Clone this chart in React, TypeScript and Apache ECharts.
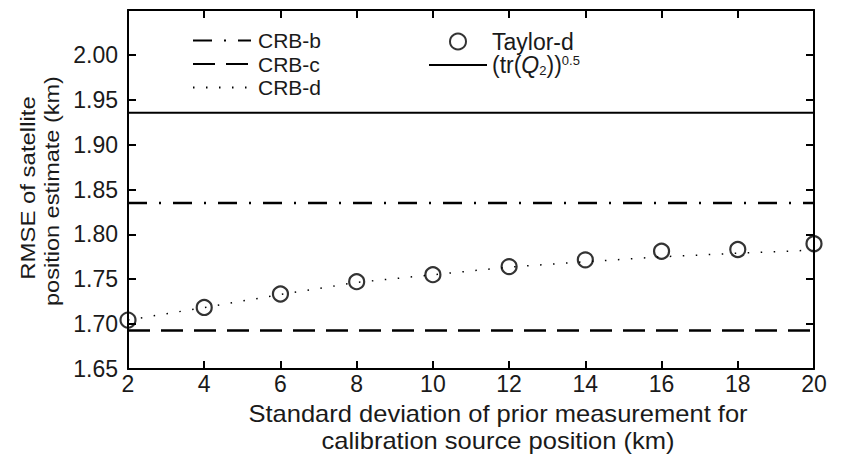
import React, { useEffect, useRef } from "react";
import * as echarts from "echarts";

const xValues = [2, 4, 6, 8, 10, 12, 14, 16, 18, 20];
const taylorD = [1.7045, 1.7186, 1.7336, 1.7473, 1.7551, 1.7641, 1.7716, 1.7812, 1.7831, 1.7895];
const crbD = [1.7045, 1.7185, 1.733, 1.7465, 1.755, 1.7635, 1.7695, 1.775, 1.779, 1.7825];
const crbB = 1.835;
const crbC = 1.693;
const trQ2 = 1.9355;
const yTicks = [1.65, 1.7, 1.75, 1.8, 1.85, 1.9, 1.95, 2.0, 2.05];
const xTitle = ["Standard deviation of prior measurement for", "calibration source position (km)"];
const yTitle = ["RMSE of satellite", "position estimate (km)"];

const FONT = "Liberation Sans, Arial, sans-serif";
const TXT = "#1a1a1a";

export default function App() {
  const ref = useRef<HTMLDivElement>(null);
  useEffect(() => {
    if (!ref.current) return;
    const chart = echarts.init(ref.current, null, { renderer: "svg" });
    const flat = (v: number) => [[xValues[0], v], [xValues[xValues.length - 1], v]];
    const tickStyle = { show: true, inside: true, length: 8, lineStyle: { color: "#000", width: 2 } };
    const axisLine = { show: true, lineStyle: { color: "#000", width: 2 } };
    const baseText = { fontFamily: FONT, fontSize: 23, color: TXT };
    const legendText = { fontFamily: FONT, fontSize: 23, color: TXT, lineHeight: 22 };
    const lineLegend = (name: string, left: number, cy: number) => ({
      data: [name],
      orient: "vertical",
      left,
      top: cy - 11,
      itemWidth: 58,
      itemHeight: 22,
      padding: 0,
      selectedMode: false,
      itemStyle: { opacity: 0 },
      textStyle: { fontFamily: FONT, fontSize: 21, color: TXT, lineHeight: 22, padding: [0, 0, 0, 2] },
    });
    const titleText = (text: string, x: number, y: number, size: number, scale: number, rot = 0) => ({
      type: "text",
      x,
      y,
      rotation: rot,
      scaleX: scale,
      silent: true,
      style: {
        text,
        fontFamily: FONT,
        fontSize: size,
        fill: TXT,
        align: "center",
        verticalAlign: "middle",
      },
    });
    chart.setOption({
      animation: false,
      backgroundColor: "#fff",
      textStyle: { fontFamily: FONT },
      grid: { left: 128, right: 27, top: 10, bottom: 102, containLabel: false },
      xAxis: [
        {
          type: "value",
          min: 2,
          max: 20,
          interval: 2,
          position: "bottom",
          axisLine,
          axisTick: tickStyle,
          splitLine: { show: false },
          axisLabel: { ...baseText, margin: 3 },
        },
        {
          type: "value",
          min: 2,
          max: 20,
          interval: 2,
          position: "top",
          axisLine,
          axisTick: tickStyle,
          splitLine: { show: false },
          axisLabel: { show: false },
        },
      ],
      yAxis: [
        {
          type: "value",
          min: yTicks[0],
          max: yTicks[yTicks.length - 1],
          interval: 0.05,
          axisLine,
          axisTick: tickStyle,
          splitLine: { show: false },
          axisLabel: {
            ...baseText,
            margin: 10,
            formatter: (v: number) => (v > 2.04 ? "" : v.toFixed(2)),
          },
        },
        {
          type: "value",
          position: "right",
          min: yTicks[0],
          max: yTicks[yTicks.length - 1],
          interval: 0.05,
          axisLine,
          axisTick: tickStyle,
          splitLine: { show: false },
          axisLabel: { show: false },
        },
      ],
      graphic: [
        titleText(xTitle[0], 498, 414, 23, 1.11),
        titleText(xTitle[1], 498, 441, 23, 1.11),
        titleText(yTitle[0], 28, 188, 21, 1.14, Math.PI / 2),
        titleText(yTitle[1], 52, 191, 21, 1.12, Math.PI / 2),
      ],
      legend: [
        lineLegend("CRB-b", 192, 40.5),
        lineLegend("CRB-c", 192, 64),
        lineLegend("CRB-d", 192, 87.5),
        {
          data: ["Taylor-d"],
          orient: "vertical",
          left: 449,
          top: 41 - 11,
          itemWidth: 58,
          itemHeight: 16,
          padding: 0,
          selectedMode: false,
          textStyle: { ...legendText, padding: [0, 0, 0, 0] },
        },
        {
          data: ["trQ2"],
          orient: "vertical",
          left: 428,
          top: 65 - 11.5,
          itemWidth: 58,
          itemHeight: 23,
          padding: 0,
          selectedMode: false,
          itemStyle: { opacity: 0 },
          formatter: () => "{n|(tr(}{i|Q}{sub|2}{n|))}{sup|0.5}",
          textStyle: {
            ...legendText,
            lineHeight: 23,
            padding: [0, 0, 0, 0],
            rich: {
              n: { fontFamily: FONT, fontSize: 23, color: TXT, lineHeight: 23, verticalAlign: "middle" },
              i: { fontFamily: FONT, fontSize: 23, color: TXT, fontStyle: "italic", lineHeight: 23, verticalAlign: "middle" },
              sub: { fontFamily: FONT, fontSize: 13, color: TXT, lineHeight: 13, verticalAlign: "bottom" },
              sup: { fontFamily: FONT, fontSize: 13, color: TXT, lineHeight: 13, verticalAlign: "top" },
            },
          },
        },
      ],
      series: [
        {
          name: "CRB-b",
          type: "line",
          data: flat(crbB),
          symbol: "none",
          lineStyle: { color: "#000", width: 2.5, type: [19, 12, 2, 12] },
          itemStyle: { color: "#000" },
        },
        {
          name: "CRB-c",
          type: "line",
          data: flat(crbC),
          symbol: "none",
          lineStyle: { color: "#000", width: 2.5, type: [22, 11] },
          itemStyle: { color: "#000" },
        },
        {
          name: "CRB-d",
          type: "line",
          data: xValues.map((x, i) => [x, crbD[i]]),
          symbol: "none",
          lineStyle: { color: "#000", width: 1.5, type: [1.5, 11.5] },
          itemStyle: { color: "#000" },
        },
        {
          name: "Taylor-d",
          type: "scatter",
          data: xValues.map((x, i) => [x, taylorD[i]]),
          symbol: "circle",
          symbolSize: 15,
          itemStyle: { color: "rgba(0,0,0,0)", borderColor: "#000", borderWidth: 2.2 },
          z: 5,
        },
        {
          name: "trQ2",
          type: "line",
          data: flat(trQ2),
          symbol: "none",
          lineStyle: { color: "#000", width: 2 },
          itemStyle: { color: "#000" },
        },
      ],
    });
    return () => chart.dispose();
  }, []);
  return (
    <div
      ref={ref}
      style={{ position: "fixed", left: 0, top: 0, width: 841, height: 471, background: "#fff" }}
    />
  );
}
